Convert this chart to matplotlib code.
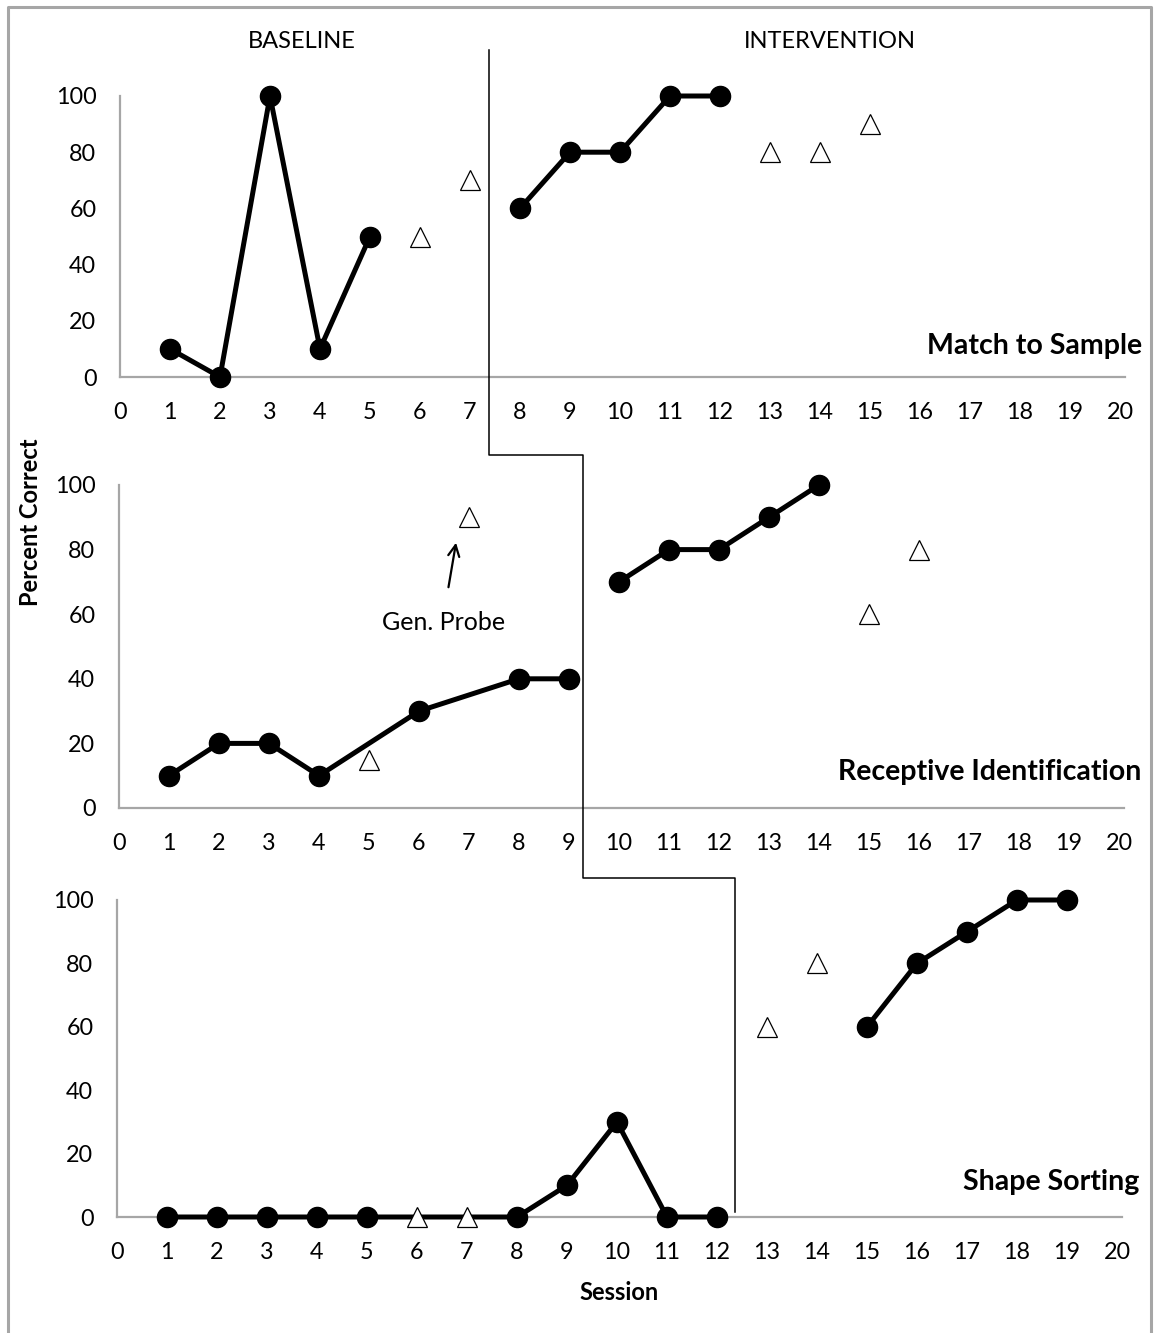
import matplotlib
matplotlib.use('Agg')
import matplotlib.pyplot as plt
from matplotlib.lines import Line2D

plt.rcParams['font.family'] = ['Lato', 'DejaVu Sans']

# Match to Sample
mts_base_x = [1, 2, 3, 4, 5]
mts_base_y = [10, 0, 100, 10, 50]
mts_int_x = [8, 9, 10, 11, 12]
mts_int_y = [60, 80, 80, 100, 100]
mts_probe_x = [6, 7, 13, 14, 15]
mts_probe_y = [50, 70, 80, 80, 90]

# Receptive Identification
ri_base_x = [1, 2, 3, 4, 6, 8, 9]
ri_base_y = [10, 20, 20, 10, 30, 40, 40]
ri_int_x = [10, 11, 12, 13, 14]
ri_int_y = [70, 80, 80, 90, 100]
ri_probe_x = [5, 7, 15, 16]
ri_probe_y = [15, 90, 60, 80]

# Shape Sorting
ss_base_x = [1, 2, 3, 4, 5, 8, 9, 10, 11, 12]
ss_base_y = [0, 0, 0, 0, 0, 0, 10, 30, 0, 0]
ss_int_x = [15, 16, 17, 18, 19]
ss_int_y = [60, 80, 90, 100, 100]
ss_probe_x = [6, 7, 13, 14]
ss_probe_y = [0, 0, 60, 80]

panel_titles = ['Match to Sample', 'Receptive Identification', 'Shape Sorting']
x_ticks = list(range(0, 21))
y_ticks = [0, 20, 40, 60, 80, 100]

# phase change lines (between sessions) for each tier
phase_change = [7.38, 9.28, 12.36]

W, H = 1155, 1333
GRAY = '#a6a6a6'


def px_axes(fig, left, top, bottom, right):
    """Add axes using pixel edges measured from the top-left corner."""
    return fig.add_axes([left / W, 1 - bottom / H, (right - left) / W, (bottom - top) / H])


def draw_panel(ax, base, inter, probe, title):
    for xs, ys in (base, inter):
        ax.plot(xs, ys, color='black', lw=3.6, marker='o', ms=14.5,
                clip_on=False, zorder=3)
    ax.plot(probe[0], probe[1], ls='none', marker='^', ms=14.5, mfc='white',
            mec='black', mew=0.9, clip_on=False, zorder=4)
    ax.set_xlim(0, 20.1)
    ax.set_ylim(0, 100)
    ax.set_xticks(x_ticks)
    ax.set_yticks(y_ticks)
    ax.tick_params(length=0, labelsize=16.8, pad=17)
    ax.tick_params(axis='x', pad=18)
    for side in ('top', 'right'):
        ax.spines[side].set_visible(False)
    for side in ('left', 'bottom'):
        ax.spines[side].set_color(GRAY)
        ax.spines[side].set_linewidth(1.6)
    ax.text(1.017, 0.11, title, transform=ax.transAxes, ha='right', va='center',
            fontsize=20.5, fontweight='bold')


fig = plt.figure(figsize=(W / 100, H / 100), dpi=100)

ax1 = px_axes(fig, 120, 96, 377, 1125)
ax2 = px_axes(fig, 119, 485, 808, 1124)
ax3 = px_axes(fig, 117, 900, 1217, 1122)

draw_panel(ax1, (mts_base_x, mts_base_y), (mts_int_x, mts_int_y),
           (mts_probe_x, mts_probe_y), panel_titles[0])
draw_panel(ax2, (ri_base_x, ri_base_y), (ri_int_x, ri_int_y),
           (ri_probe_x, ri_probe_y), panel_titles[1])
draw_panel(ax3, (ss_base_x, ss_base_y), (ss_int_x, ss_int_y),
           (ss_probe_x, ss_probe_y), panel_titles[2])

# figure frame
fig.add_artist(Line2D([8 / W, 8 / W, 1151 / W, 1151 / W],
                      [0, 1 - 7 / H, 1 - 7 / H, 0], color=GRAY, lw=2.2,
                      transform=fig.transFigure))


# stepped phase change line
def fx(ax, xval):
    disp = ax.transData.transform((xval, 0))
    return fig.transFigure.inverted().transform(disp)[0]


def fy(ax, yval):
    disp = ax.transData.transform((0, yval))
    return fig.transFigure.inverted().transform(disp)[1]


gap1 = 1 - 455 / H
gap2 = 1 - 878 / H
step_x = [fx(ax1, phase_change[0]), fx(ax1, phase_change[0]),
          fx(ax2, phase_change[1]), fx(ax2, phase_change[1]),
          fx(ax3, phase_change[2]), fx(ax3, phase_change[2])]
step_y = [1 - 50 / H, gap1, gap1, gap2, gap2, fy(ax3, 1.5)]
fig.add_artist(Line2D(step_x, step_y, color='black', lw=1.1,
                      transform=fig.transFigure, zorder=5))

# condition labels
fig.text(302 / W, 1 - 42 / H, 'BASELINE', ha='center', va='center', fontsize=17)
fig.text(830 / W, 1 - 42 / H, 'INTERVENTION', ha='center', va='center', fontsize=17)

# probe annotation
ax2.annotate('', xy=(6.75, 83), xytext=(6.58, 67.5),
             arrowprops=dict(arrowstyle='->', color='black', lw=1.6,
                             mutation_scale=20))
ax2.text(6.5, 57.5, 'Gen. Probe', ha='center', va='center', fontsize=18)

fig.text(30 / W, 1 - 522 / H, 'Percent Correct', rotation=90, ha='center',
         va='center', fontsize=17, fontweight='bold')
fig.text(619 / W, 1 - 1292 / H, 'Session', ha='center', va='center',
         fontsize=17, fontweight='bold')

fig.savefig('out.png', dpi=100)
